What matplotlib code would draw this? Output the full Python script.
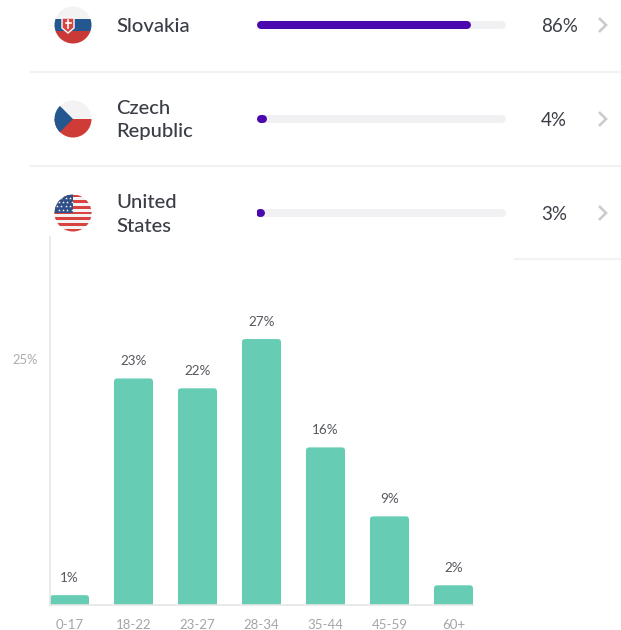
import numpy as np
import matplotlib
matplotlib.use("Agg")
import matplotlib.pyplot as plt
from matplotlib.patches import Circle, Rectangle, Polygon, FancyBboxPatch

plt.rcParams['font.family'] = ['Lato', 'DejaVu Sans']

countries = ["Slovakia", "Czech\nRepublic", "United\nStates"]
country_share = [86, 4, 3]
ages = ["0-17", "18-22", "23-27", "28-34", "35-44", "45-59", "60+"]
age_share = [1, 23, 22, 27, 16, 9, 2]

W, H = 621, 630
purple = "#4a08ae"
track = "#f1f1f3"
rule = "#f2f2f3"
textcol = "#3a3d45"
green = "#66cdb4"
row_y = [25, 119, 213]

fig = plt.figure(figsize=(W/100, H/100), dpi=100, facecolor="white")


def px_axes(x0, y0, x1, y1):
    # axes from pixel box, y measured from the top of the picture
    return fig.add_axes([x0/W, 1-y1/H, (x1-x0)/W, (y1-y0)/H])


# background layer in pixel coordinates for the list decoration
bg = px_axes(0, 0, W, H)
bg.set_xlim(0, W)
bg.set_ylim(H, 0)
bg.axis("off")

bg.plot([31, W], [72, 72], color=rule, lw=1.5)
bg.plot([31, W], [166, 166], color=rule, lw=1.5)
bg.plot([515, W], [259, 259], color=rule, lw=1.5)


def flag_clip(cy):
    c = Circle((73, cy), 18.5, transform=bg.transData, fc="none", ec="none")
    bg.add_patch(c)
    return c


def box(x, y, w, h, col, clip):
    r = Rectangle((x, y), w, h, fc=col, ec="none")
    bg.add_patch(r)
    r.set_clip_path(clip)
    return r


# Slovakia
cy = row_y[0]
clip = flag_clip(cy)
box(54, cy-19, 38, 13, "#f3f3f3", clip)
box(54, cy-6, 38, 12, "#24578f", clip)
box(54, cy+6, 38, 13, "#c93a36", clip)
shield = Polygon([(62, cy-7), (74, cy-7), (74, cy+3), (68, cy+8), (62, cy+3)],
                 fc="#d6453f", ec="white", lw=1)
bg.add_patch(shield)
bg.plot([68, 68], [cy-5, cy+3], color="white", lw=1.2)
bg.plot([65.5, 70.5], [cy-2, cy-2], color="white", lw=1.2)

# Czech Republic
cy = row_y[1]
clip = flag_clip(cy)
box(54, cy-19, 38, 19, "#f3f3f3", clip)
box(54, cy, 38, 19, "#cf3b37", clip)
tri = Polygon([(54, cy-19), (73, cy), (54, cy+19)], fc="#24578f", ec="none")
bg.add_patch(tri)
tri.set_clip_path(clip)

# United States
cy = row_y[2]
clip = flag_clip(cy)
box(54, cy-19, 38, 38, "#f3f3f3", clip)
for k in range(7):
    box(54, cy-18.5+k*5.7, 38, 2.85, "#d8423f", clip)
box(54, cy-19, 19, 19, "#2f4f86", clip)
for sy in range(4):
    for sx in range(4):
        st = bg.scatter(57+sx*4.4+(sy % 2)*1.5, cy-15.5+sy*4.2, s=4, marker="*",
                        color="white", linewidths=0, zorder=3)
        st.set_clip_path(clip)

# country names, values and chevrons
for name, val, y in zip(countries, country_share, row_y):
    bg.text(116, y+1, name, fontsize=14.6, color=textcol, va="center", ha="left",
            fontweight="medium", linespacing=1.5)
    bg.text(541, y+1, "%d%%" % val, fontsize=13.5, color=textcol, va="center", ha="left")
    bg.plot([599, 606, 599], [y-7, y, y+7], color="#cbcbcd", lw=1.9,
            solid_joinstyle="miter", solid_capstyle="butt")

# progress bars, x axis is percent
pr = px_axes(257, 0, 506, 240)
pr.set_xlim(0, 100)
pr.set_ylim(240, 0)
pr.axis("off")
pr.patch.set_alpha(0)
cap = 4/2.49
for val, y in zip(country_share, row_y):
    pr.plot([cap, 100-cap], [y, y], color=track, lw=5.76, solid_capstyle="round")
    pr.plot([cap, val-cap], [y, y], color=purple, lw=5.76, solid_capstyle="round")

# age histogram
ax = px_axes(50, 237, 473, 605)
ax.patch.set_alpha(0)
x = np.arange(len(ages))
ax.set_xlim(-0.305, 6.305)
ax.set_ylim(0, 368/9.85)
for xi, v in zip(x, age_share):
    b = FancyBboxPatch((xi-0.305, -2), 0.61, v+2, boxstyle="round,pad=0,rounding_size=0.05",
                       mutation_aspect=6.5, fc=green, ec="none")
    ax.add_patch(b)
    ax.text(xi, v+1.15, "%d%%" % v, ha="center", va="bottom", fontsize=9.7, color="#55585e")
for s in ["top", "right"]:
    ax.spines[s].set_visible(False)
ax.spines["left"].set_color("#e6e6e6")
ax.spines["bottom"].set_color("#e6e6e6")
ax.spines["left"].set_linewidth(1.2)
ax.spines["bottom"].set_linewidth(1.2)
ax.set_xticks(x)
ax.set_xticklabels(ages, fontsize=9.5, color="#a3a5a8")
ax.set_yticks([25])
ax.set_yticklabels(["25%"], fontsize=9.3, color="#a9abae")
ax.tick_params(axis="both", length=0)
ax.tick_params(axis="x", pad=10)
ax.tick_params(axis="y", pad=9)

fig.savefig("out.png", dpi=100)
